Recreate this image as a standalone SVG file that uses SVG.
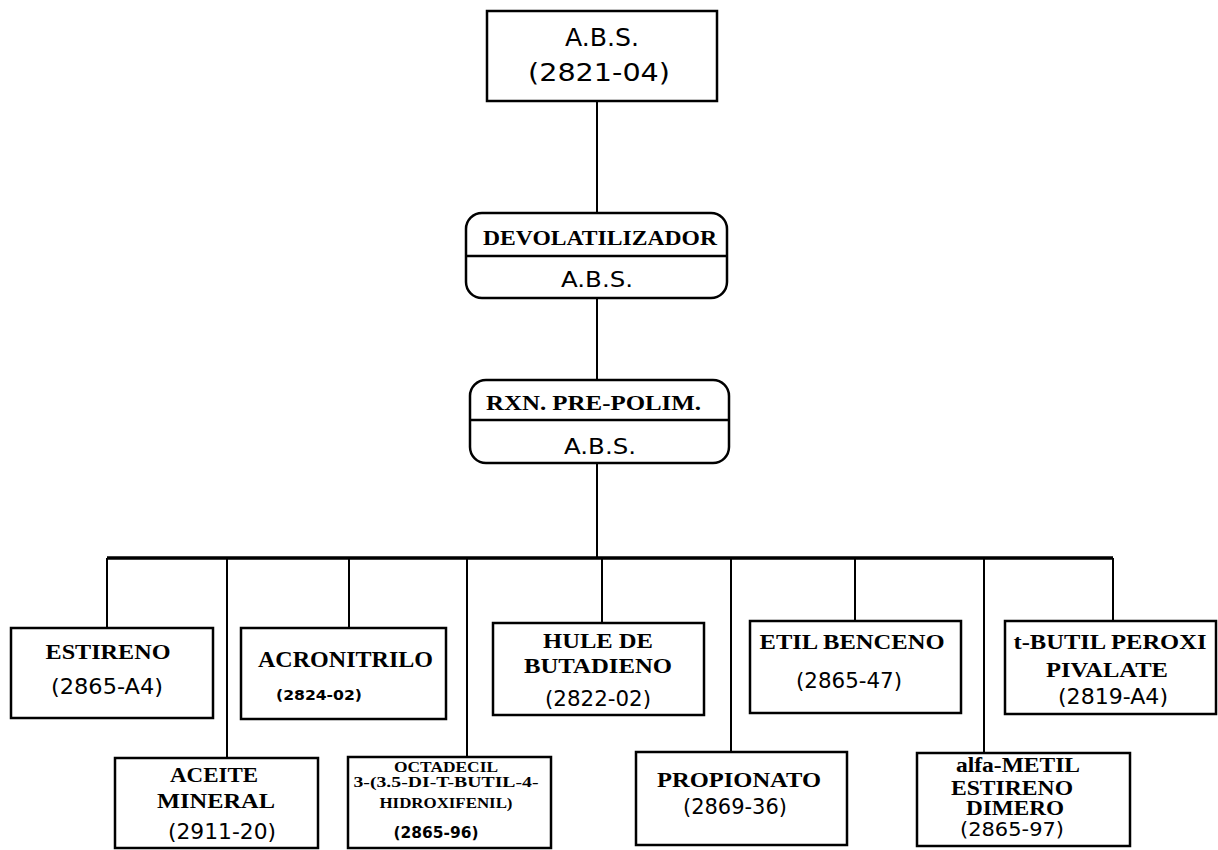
<svg xmlns="http://www.w3.org/2000/svg" width="1218" height="850" viewBox="0 0 1218 850">
<style>
.box{fill:#fff;stroke:#000;stroke-width:2.5}
.div{stroke:#000;stroke-width:2.5}
.con{stroke:#000;stroke-width:2;fill:none}
.bus{stroke:#000;stroke-width:3.5;fill:none}
.sr{font-family:"Liberation Serif",serif;font-weight:bold;fill:#000;text-anchor:middle}
.ss{font-family:"DejaVu Sans",sans-serif;fill:#000;text-anchor:middle}
.st{text-anchor:start}
</style>
<rect width="1218" height="850" fill="#fff"/>
<g id="connectors">
<path class="con" d="M597 101V213M597 298V380M597 463V557"/>
<path class="bus" d="M107 558H1113"/>
<path class="con" d="M107 558V628M227 558V758M349 558V628M467 558V757M602 558V623M731 558V752M855 558V621M984 558V753M1113 558V621"/>
</g>
<g id="n-abs">
<rect class="box" x="487" y="11" width="230" height="90"/>
<text class="ss" x="602" y="46" font-size="25" textLength="74" lengthAdjust="spacingAndGlyphs">A.B.S.</text>
<text class="ss" x="599" y="81" font-size="25" textLength="142" lengthAdjust="spacingAndGlyphs">(2821-04)</text>
</g>
<g id="n-devol">
<rect class="box" x="466" y="213" width="261" height="85" rx="16"/>
<line class="div" x1="466" y1="256" x2="727" y2="256"/>
<text class="sr" x="600" y="245" font-size="22" textLength="234" lengthAdjust="spacingAndGlyphs">DEVOLATILIZADOR</text>
<text class="ss" x="597" y="287" font-size="22" textLength="72" lengthAdjust="spacingAndGlyphs">A.B.S.</text>
</g>
<g id="n-rxn">
<rect class="box" x="470" y="380" width="259" height="83" rx="16"/>
<line class="div" x1="470" y1="420" x2="729" y2="420"/>
<text class="sr st" x="486" y="410" font-size="21" textLength="215" lengthAdjust="spacingAndGlyphs">RXN. PRE-POLIM.</text>
<text class="ss" x="600" y="454" font-size="22" textLength="72" lengthAdjust="spacingAndGlyphs">A.B.S.</text>
</g>
<g id="n-estireno">
<rect class="box" x="11" y="628" width="202" height="90"/>
<text class="sr" x="108" y="659" font-size="22" textLength="125" lengthAdjust="spacingAndGlyphs">ESTIRENO</text>
<text class="ss" x="107" y="694" font-size="22" textLength="112" lengthAdjust="spacingAndGlyphs">(2865-A4)</text>
</g>
<g id="n-acronitrilo">
<rect class="box" x="241" y="628" width="205" height="91"/>
<text class="sr st" x="258" y="667" font-size="24" textLength="175" lengthAdjust="spacingAndGlyphs">ACRONITRILO</text>
<text class="ss st" x="276" y="700" font-size="14" font-weight="bold" textLength="86" lengthAdjust="spacingAndGlyphs">(2824-02)</text>
</g>
<g id="n-hule">
<rect class="box" x="493" y="623" width="211" height="92"/>
<text class="sr" x="598" y="648" font-size="22" textLength="110" lengthAdjust="spacingAndGlyphs">HULE DE</text>
<text class="sr" x="598" y="673" font-size="22" textLength="148" lengthAdjust="spacingAndGlyphs">BUTADIENO</text>
<text class="ss" x="598" y="706" font-size="22" textLength="106" lengthAdjust="spacingAndGlyphs">(2822-02)</text>
</g>
<g id="n-etil">
<rect class="box" x="750" y="621" width="211" height="92"/>
<text class="sr" x="852" y="649" font-size="20" textLength="185" lengthAdjust="spacingAndGlyphs">ETIL BENCENO</text>
<text class="ss" x="849" y="688" font-size="22" textLength="106" lengthAdjust="spacingAndGlyphs">(2865-47)</text>
</g>
<g id="n-tbutil">
<rect class="box" x="1005" y="621" width="211" height="93"/>
<text class="sr" x="1110" y="649" font-size="20" textLength="193" lengthAdjust="spacingAndGlyphs">t-BUTIL PEROXI</text>
<text class="sr" x="1107" y="677" font-size="20" textLength="122" lengthAdjust="spacingAndGlyphs">PIVALATE</text>
<text class="ss" x="1113" y="704" font-size="21" textLength="110" lengthAdjust="spacingAndGlyphs">(2819-A4)</text>
</g>
<g id="n-aceite">
<rect class="box" x="115" y="758" width="203" height="90"/>
<text class="sr" x="214" y="782" font-size="22" textLength="88" lengthAdjust="spacingAndGlyphs">ACEITE</text>
<text class="sr" x="216" y="808" font-size="22" textLength="118" lengthAdjust="spacingAndGlyphs">MINERAL</text>
<text class="ss" x="222" y="839" font-size="22" textLength="108" lengthAdjust="spacingAndGlyphs">(2911-20)</text>
</g>
<g id="n-octadecil">
<rect class="box" x="348" y="757" width="203" height="91"/>
<text class="sr" x="446" y="772" font-size="14" textLength="104" lengthAdjust="spacingAndGlyphs">OCTADECIL</text>
<text class="sr" x="446" y="787" font-size="15" textLength="185" lengthAdjust="spacingAndGlyphs">3-(3.5-DI-T-BUTIL-4-</text>
<text class="sr" x="446" y="808" font-size="15" textLength="133" lengthAdjust="spacingAndGlyphs">HIDROXIFENIL)</text>
<text class="ss" x="436" y="838" font-size="15" font-weight="bold" textLength="85" lengthAdjust="spacingAndGlyphs">(2865-96)</text>
</g>
<g id="n-propionato">
<rect class="box" x="636" y="752" width="211" height="93"/>
<text class="sr st" x="657" y="787" font-size="22" textLength="164" lengthAdjust="spacingAndGlyphs">PROPIONATO</text>
<text class="ss st" x="683" y="814" font-size="22" textLength="104" lengthAdjust="spacingAndGlyphs">(2869-36)</text>
</g>
<g id="n-alfa">
<rect class="box" x="917" y="753" width="213" height="93"/>
<text class="sr" x="1018" y="772" font-size="20" textLength="124" lengthAdjust="spacingAndGlyphs">alfa-METIL</text>
<text class="sr" x="1012" y="795" font-size="20" textLength="122" lengthAdjust="spacingAndGlyphs">ESTIRENO</text>
<text class="sr" x="1015" y="815" font-size="20" textLength="98" lengthAdjust="spacingAndGlyphs">DIMERO</text>
<text class="ss" x="1012" y="836" font-size="20" textLength="104" lengthAdjust="spacingAndGlyphs">(2865-97)</text>
</g>
</svg>
